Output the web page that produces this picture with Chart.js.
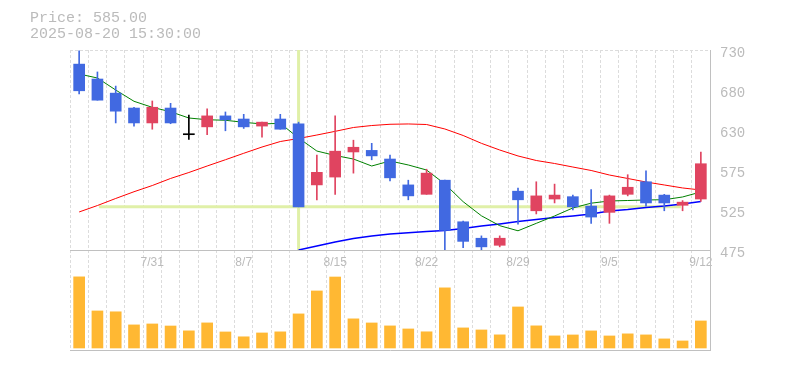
<!DOCTYPE html>
<html>
<head>
  <title>Price chart</title>
  <script src="https://cdn.jsdelivr.net/npm/chart.js"></script>
  <style>
    body { margin: 0; background: #fff; }
    #wrap { position: relative; width: 785px; height: 370px; }
    #info { position: absolute; left: 30px; top: 11px; font: 15px/15.5px "Liberation Mono", monospace; color: #bbb; }
  </style>
</head>
<body>
<div id="wrap">
  <canvas id="myChart" width="785" height="370"></canvas>
  <div id="info">Price: 585.00<br>2025-08-20 15:30:00</div>
</div>

<script>
  const dates = ['7/25','7/28','7/29','7/30','7/31','8/1','8/4','8/5','8/6','8/7','8/8','8/12','8/13','8/14','8/15',
                 '8/18','8/19','8/20','8/21','8/22','8/25','8/26','8/27','8/28','8/29','9/1','9/2','9/3','9/4','9/5',
                 '9/8','9/9','9/10','9/11','9/12'];
  const opens  = [712,693,675,656,637,656,622,632,646,642,633,642,636,558,568,600,602,591,558,546,564,511,490,481,550,525,540,543,531,523,546,562,545,532,540];
  const highs  = [729,702,684,657,665,662,647,655,651,648,638,648,638,596,646,615,611,596,564,578,564,512,493,493,554,562,559,545,552,545,571,576,546,538,600];
  const lows   = [674,666,637,633,629,636,616,622,627,630,619,629,530,539,546,573,590,563,539,546,475,478,475,479,508,521,535,526,509,509,544,531,525,525,537];
  const closes = [678,666,652,637,657,637,622,646,641,632,638,629,530,574,601,606,595,567,544,573,500,486,479,490,539,544,545,530,517,544,555,535,535,536,585];
  const volumes = [142300,74100,72400,46200,48100,44000,34300,50200,32100,22400,30100,32300,68200,114100,142000,58300,50100,44200,38100,32400,
                   120300,40200,36100,26300,82100,44300,24200,26100,34200,24100,28300,26200,18200,14100,54100];
  // short average (green), long average (red), trend line (blue)
  const maShort = [699.4,694.3,679,664.6,656.9,651.3,643.3,641.1,640.4,637.8,635.7,636.5,617.8,601.2,595.5,591,582.1,588.5,583.4,577,
                   559.2,536.6,518.6,506,499.5,509,518.4,528.6,534.7,537.5,538.1,538.8,539.1,542.6,549];
  const maLong  = [523.5,531.7,540.7,549.3,557.2,566.2,573.8,582.1,590.1,598.3,606.3,613.3,617.2,621.6,626.3,631.2,633.7,635.3,635.7,635,
                   629.3,621,611,602.5,594.9,589.1,585.3,580.8,576.4,570.6,566.2,561.7,557.9,554.1,551.5];
  const trend   = [null,null,null,null,null,null,null,null,null,null,null,null,475,480.1,485.2,489.7,492.9,495.4,497,498.6,
                   499.9,502.4,505.6,508.2,511.3,513.9,516.4,518.4,520.9,524.7,526.6,529.2,531.1,533.7,536.8];

  const priceMin = 475, priceMax = 730;
  const priceTicks = [475, 526, 577, 628, 679, 730];
  const priceTickText = ['475', '525', '575', '630', '680', '730'];
  const dateTicks = ['7/31', '8/7', '8/15', '8/22', '8/29', '9/5', '9/12'];
  const crossIndex = 12;
  const crossPrice = 530;

  const UP = '#e04460', DOWN = '#4169e1', FLAT = '#000000';
  const candleColors = opens.map((o, i) => closes[i] > o ? UP : (closes[i] < o ? DOWN : FLAT));

  // dashed background grid: 11 even rows on the price pane
  const gridValues = [];
  for (let k = 0; k <= 11; k++) gridValues.push(priceMin + (priceMax - priceMin) * k / 11);
  const isGrid = v => gridValues.some(g => Math.abs(g - v) < 1e-6);

  const CROSS = '#e0f0a8';
  const GRID = '#dcdcdc';
  const BORDER = '#c0c0c0';
  const TEXT = '#bbb';

  new Chart(document.getElementById('myChart'), {
    type: 'bar',
    data: {
      labels: dates,
      datasets: [
        {
          label: 'body',
          data: opens.map((o, i) => [o, closes[i]]),
          backgroundColor: candleColors,
          barThickness: 11,
          minBarLength: 1,
          grouped: false,
          order: 0
        },
        {
          label: 'wick',
          data: lows.map((l, i) => [l, highs[i]]),
          backgroundColor: candleColors,
          barThickness: 1,
          grouped: false,
          order: 1
        },
        { type: 'line', label: 'short', data: maShort, borderColor: '#008000', borderWidth: 1, pointRadius: 0, order: 2 },
        { type: 'line', label: 'long', data: maLong, borderColor: '#ff0000', borderWidth: 1, pointRadius: 0, order: 2 },
        { type: 'line', label: 'trend', data: trend, borderColor: '#0000ff', borderWidth: 1.5, pointRadius: 0, order: 2 },
        {
          type: 'line', label: 'crossV',
          data: [{x: dates[crossIndex], y: priceMin}, {x: dates[crossIndex], y: priceMax}],
          borderColor: CROSS, borderWidth: 3, pointRadius: 0, order: 5
        },
        {
          type: 'line', label: 'crossH', xAxisID: 'xc',
          data: [{x: 0, y: crossPrice}, {x: 1, y: crossPrice}],
          borderColor: CROSS, borderWidth: 3, pointRadius: 0, order: 5
        },
        {
          label: 'volume',
          data: volumes,
          yAxisID: 'v',
          backgroundColor: '#ffb833',
          barThickness: 11,
          grouped: false,
          order: 3
        }
      ]
    },
    options: {
      responsive: false,
      animation: false,
      events: [],
      layout: { padding: { left: 70, top: 50, right: 0, bottom: 20 } },
      plugins: { legend: { display: false }, tooltip: { enabled: false } },
      scales: {
        x: {
          type: 'category',
          position: 'bottom',
          offset: true,
          grid: { color: GRID, offset: true, drawTicks: false },
          border: { color: BORDER, dash: [3, 2] },
          ticks: { display: false },
          afterFit: s => { s.height = 0; }
        },
        xl: {
          type: 'category',
          axis: 'x',
          position: { y: priceMin },
          offset: true,
          grid: { display: true, drawOnChartArea: false, drawTicks: false },
          border: { color: BORDER },
          ticks: {
            autoSkip: false, maxRotation: 0, padding: 5, color: TEXT,
            font: { family: 'Liberation Sans', size: 12 },
            callback: (v, i) => dateTicks.includes(dates[i]) ? dates[i] : ''
          }
        },
        xc: { type: 'linear', axis: 'x', min: 0, max: 1, display: false },
        y: {
          type: 'linear',
          position: 'right',
          stack: 'pane',
          stackWeight: 2,
          weight: 0,
          min: priceMin,
          max: priceMax,
          afterBuildTicks: s => {
            const vals = gridValues.concat(priceTicks).sort((a, b) => a - b);
            s.ticks = vals.filter((v, i) => i === 0 || Math.abs(v - vals[i - 1]) > 1e-6).map(v => ({value: v}));
          },
          afterFit: s => { s.width = 75; },
          grid: {
            drawTicks: false,
            color: c => (c.tick && isGrid(c.tick.value)) ? GRID : 'rgba(0,0,0,0)'
          },
          border: { color: BORDER, dash: [3, 2] },
          ticks: {
            padding: 10, labelOffset: 3, color: TEXT,
            font: { family: 'Liberation Mono', size: 14 },
            callback: v => {
              const k = priceTicks.findIndex(p => Math.abs(p - v) < 1e-6);
              return k >= 0 ? priceTickText[k] : '';
            }
          }
        },
        v: {
          type: 'linear',
          axis: 'y',
          position: 'right',
          stack: 'pane',
          stackWeight: 1,
          weight: 1,
          min: -4000,
          max: 196000,
          afterFit: s => { s.width = 75; },
          grid: { display: true, drawOnChartArea: false, drawTicks: false },
          border: { color: BORDER },
          ticks: { display: false }
        }
      }
    }
  });
</script>
</body>
</html>
